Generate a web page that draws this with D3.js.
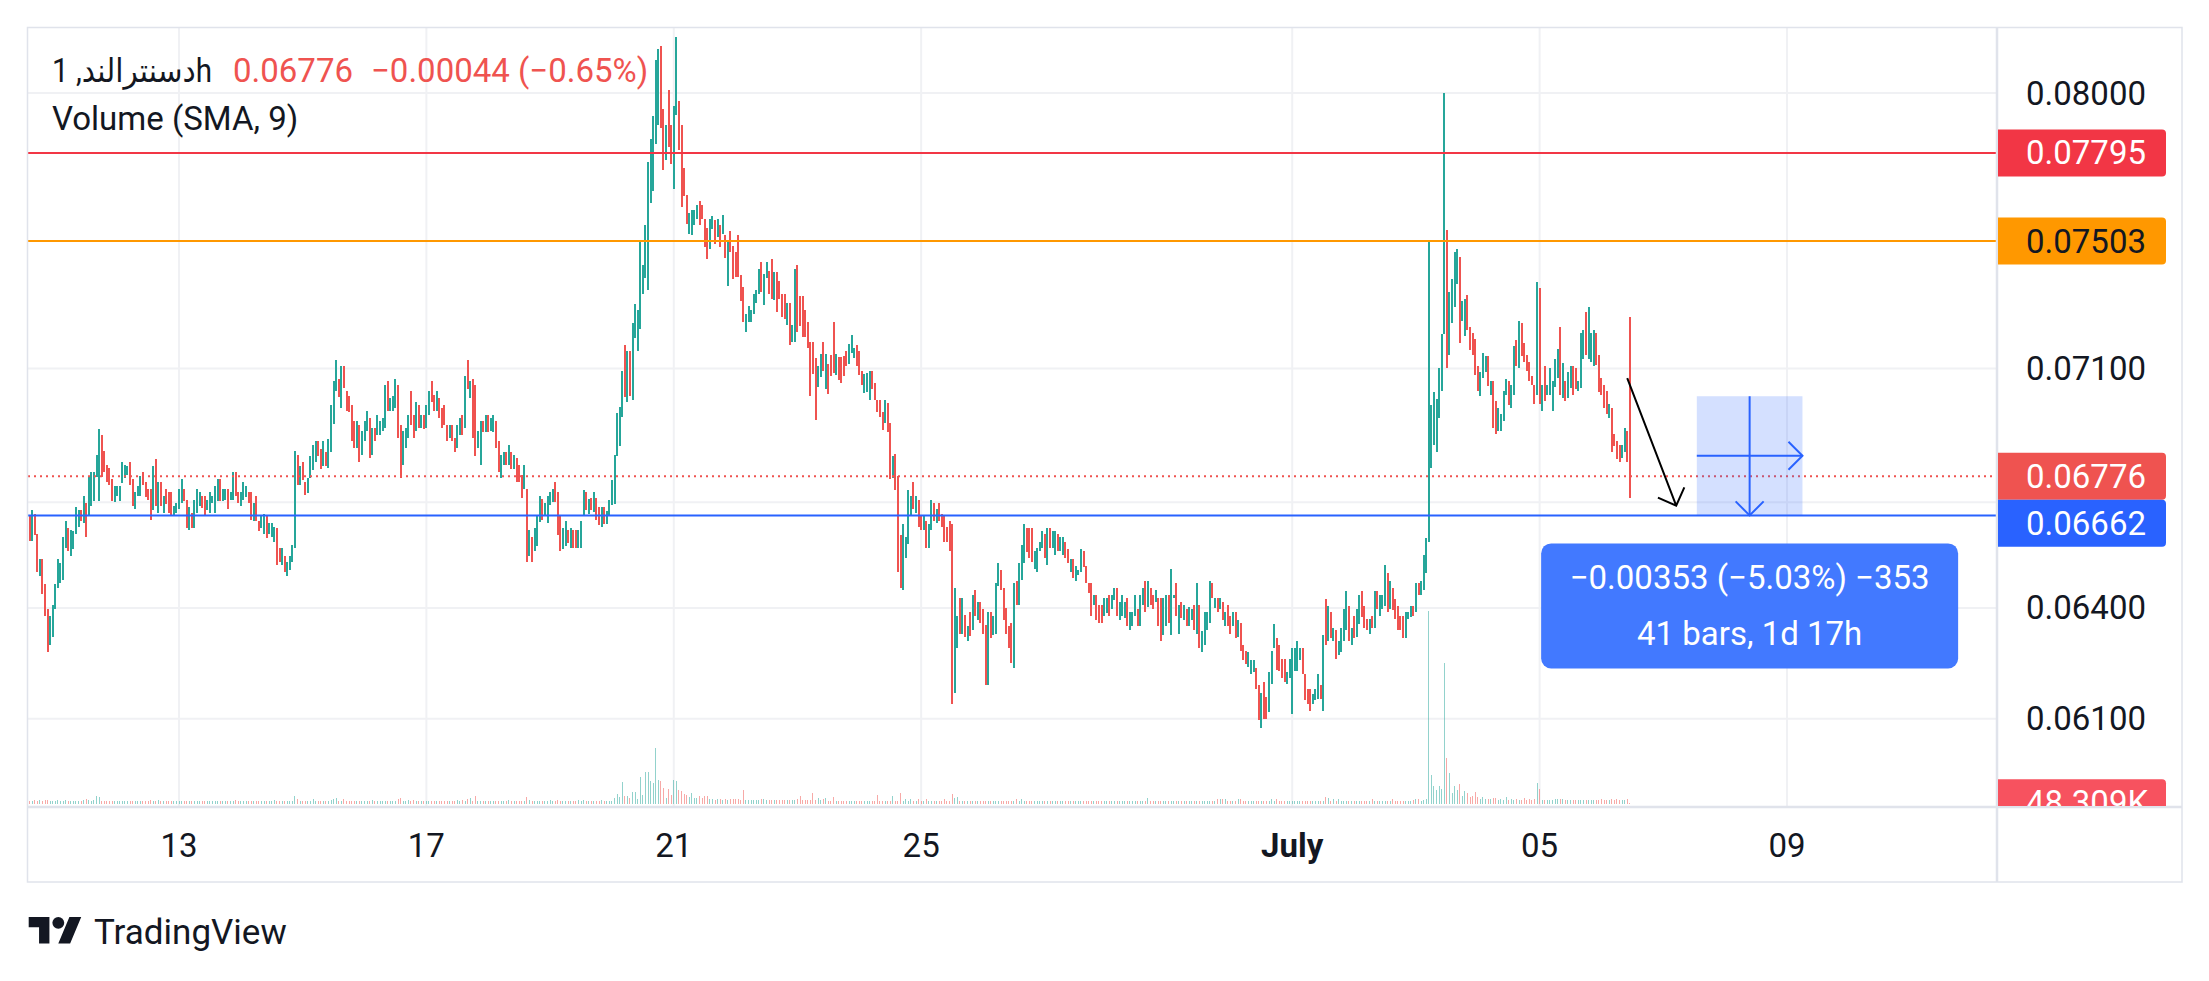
<!DOCTYPE html>
<html>
<head>
<meta charset="utf-8">
<script src="https://cdn.jsdelivr.net/npm/d3@7"></script>
<style>
  html, body { margin: 0; padding: 0; background: #fff; }
  svg { display: block; }
  text { font-family: Roboto, "DejaVu Sans", sans-serif; }
</style>
</head>
<body>
<div id="chart"></div>
<script>
const W = 2209, H = 981;

// hourly bars starting 10 June 14:00 UTC, prices in units of 0.00001
const startTime = Date.UTC(2024, 5, 10, 14);

const highs = [
  6662,6678,6666,6608,6538,6538,6468,6398,6377,6407,
  6468,6538,6527,6599,6646,6625,6620,6616,6687,6679,
  6679,6717,6699,6777,6787,6787,6838,6917,6899,6850,
  6810,6800,6769,6748,6748,6748,6819,6810,6807,6819,
  6769,6730,6748,6777,6787,6758,6740,6740,6807,6828,
  6758,6758,6717,6738,6730,6730,6688,6699,6738,6769,
  6738,6706,6687,6668,6706,6738,6730,6717,6717,6706,
  6730,6717,6748,6769,6769,6738,6738,6738,6730,6787,
  6787,6730,6730,6758,6748,6730,6730,6699,6717,6647,
  6659,6666,6659,6640,6640,6630,6627,6568,6568,6547,
  6530,6547,6578,6850,6838,6807,6819,6758,
  6770,6837,6867,6879,6879,6857,6879,6849,6887,6989,
  7060,7127,7069,7109,7109,7030,7017,6989,6939,6939,
  6929,6909,6939,6969,6949,6919,6919,6959,6939,6949,
  7048,7060,7009,7017,7068,7048,6929,6909,6919,6959,
  7030,6959,6999,6989,6959,6959,6989,7030,7060,7019,
  7030,7009,6979,6989,6929,6929,6929,6889,6929,6949,
  6959,7078,7127,7060,7068,7048,6909,6939,6939,6959,
  6959,6949,6959,6939,6879,6839,6849,6849,6867,6849,
  6839,6829,6808,6780,6808,6739,6619,6599,6627,6664,
  6717,6709,6697,6717,6729,6738,6758,6729,6664,6627,
  6647,6619,6627,6619,6619,6619,6647,6736,6729,6709,
  6712,6729,
  6713,6685,6685,6685,6675,6706,6764,6840,6964,6982,
  7093,7173,7153,7153,7242,7302,7282,7503,7424,7555,
  7765,7843,7922,8115,8155,8165,7944,7890,8012,7890,
  7955,8197,7974,7889,7744,7654,7595,7605,7605,7622,
  7634,7620,7575,7546,7575,7584,7573,7575,7555,7587,
  7523,7503,7536,7487,7467,7523,7392,7356,7270,7296,
  7282,7333,7345,7413,7436,7396,7436,7407,7444,7402,
  7402,7373,7333,7333,7304,7304,7234,7413,7424,7325,
  7325,7282,7245,7183,7181,7131,7109,7146,7181,7146,
  7115,7142,7244,7146,7134,7134,7137,7153,7175,7203,
  7164,7173,7153,7091,7082,7087,7091,7091,7054,7005,
  7003,6968,7005,6995,6935,6835,6843,6778,6605,
  6638,6599,6736,6717,6758,6717,6708,6659,6659,6647,
  6638,6708,6699,6680,6699,6667,6659,6628,6647,6638,
  6457,6377,6427,6427,6381,6349,6388,6437,6449,6418,
  6418,6398,6352,6388,6388,6377,6469,6527,6507,6457,
  6400,6349,6358,6469,6476,6527,6578,6638,6627,6627,
  6627,6559,6568,6587,6618,6608,6627,6627,6618,6618,
  6608,6599,6599,6587,6567,6538,6538,6518,6507,6567,
  6559,6518,6469,6469,6437,6437,6409,6409,6427,6427,
  6437,6437,6457,6457,6418,6437,6418,6427,6388,6388,
  6437,6398,6437,6457,6476,6476,6457,6437,6449,6427,
  6427,6427,6437,6437,6508,6437,6469,6409,6418,6409,
  6398,6404,6398,6407,6469,6407,6337,6388,6388,6476,
  6469,6427,6427,6427,6418,6388,6407,6377,6388,6388,
  6368,6358,6299,6281,6278,6258,6258,6237,6191,6168,
  6198,6157,
  6226,6281,6356,6317,6297,6259,6259,6226,6259,6289,
  6289,6308,6289,6289,6219,6178,6178,6167,6178,6219,
  6189,6326,6426,6406,6388,6346,6338,6308,6346,6397,
  6448,6406,6346,6377,6397,6437,6448,6406,6369,6369,
  6377,6448,6448,6437,6437,6519,6499,6476,6457,6426,
  6406,6377,6377,6388,6388,6406,6406,6469,6469,6476,
  6548,6598,7502,6988,7027,7008,7100,7206,8000,7540,
  7338,7380,
  7469,7478,7450,7309,7317,7328,7230,7209,7191,7109,
  7088,7149,7139,7139,7060,7060,7000,6979,6961,7030,
  7068,7060,7050,7168,7189,7249,7241,7178,7142,7121,
  7078,7050,7370,7352,7048,7109,7048,7101,7060,7129,
  7160,7230,7118,7060,7088,7109,7109,7101,7060,7209,
  7218,7277,7290,7209,7220,7209,7142,7070,7050,7030,
  6991,6979,6901,6879,6869,6867,6919,6909,7261
];

const lows = [
  6589,6589,6606,6500,6490,6439,6377,6279,6299,6320,
  6398,6455,6469,6477,6568,6559,6547,6565,6609,6628,
  6647,6640,6600,6659,6688,6703,6773,6703,6774,6788,
  6758,6751,6703,6701,6717,6703,6756,6770,6779,6751,
  6689,6680,6717,6719,6751,6715,6707,6649,6679,6689,
  6670,6688,6670,6696,6670,6659,6659,6670,6680,6699,
  6703,6627,6619,6627,6627,6670,6688,6683,6659,6678,
  6670,6699,6670,6703,6703,6703,6706,6680,6706,6707,
  6717,6699,6688,6706,6715,6699,6649,6647,6647,6618,
  6625,6608,6597,6608,6599,6587,6521,6530,6521,6500,
  6490,6505,6528,6568,6751,6751,6764,6722,
  6726,6770,6795,6819,6837,6798,6805,6805,6800,6849,
  6931,7030,7014,6979,7040,6969,6966,6879,6859,6859,
  6819,6839,6879,6909,6829,6839,6879,6899,6899,6909,
  6919,6969,6969,6969,6979,6889,6770,6808,6859,6889,
  6929,6889,6909,6919,6919,6917,6919,6959,6999,6969,
  6969,6949,6919,6929,6879,6889,6879,6849,6859,6899,
  6899,6919,7038,7009,6889,6837,6859,6808,6907,6907,
  6907,6909,6907,6859,6788,6770,6810,6808,6808,6798,
  6798,6759,6759,6712,6739,6528,6547,6528,6559,6573,
  6642,6649,6664,6640,6693,6700,6700,6606,6561,6566,
  6573,6582,6568,6568,6568,6568,6568,6659,6678,6665,
  6678,6671,
  6648,6635,6628,6637,6637,6660,6693,6695,6835,6864,
  6953,7014,6997,7016,7003,7194,7155,7223,7333,7384,
  7345,7626,7666,7824,7890,7880,7737,7771,7816,7756,
  7675,7925,7806,7614,7652,7557,7525,7523,7555,7575,
  7555,7575,7485,7445,7476,7543,7493,7517,7485,7525,
  7447,7359,7468,7379,7387,7387,7310,7245,7214,7245,
  7245,7270,7304,7333,7339,7299,7384,7333,7316,7314,
  7276,7316,7259,7255,7234,7173,7181,7183,7214,7231,
  7198,7198,7164,7016,7082,6944,7044,7073,7093,7036,
  7021,7076,7087,7080,7065,7054,7076,7109,7115,7148,
  7131,7109,7080,7049,7025,7027,7005,7038,7005,6968,
  6951,6914,6935,6906,6767,6772,6736,6502,6455,
  6451,6540,6579,6659,6680,6668,6628,6619,6619,6568,
  6568,6619,6647,6640,6647,6628,6587,6587,6559,6139,
  6168,6290,6328,6328,6319,6308,6324,6338,6377,6368,
  6358,6328,6191,6191,6317,6326,6328,6460,6449,6368,
  6328,6290,6249,6237,6409,6409,6479,6525,6557,6540,
  6530,6509,6500,6559,6568,6540,6521,6568,6568,6549,
  6559,6559,6549,6540,6525,6502,6485,6474,6491,6502,
  6516,6469,6441,6377,6409,6368,6358,6358,6377,6386,
  6377,6398,6423,6377,6368,6377,6372,6349,6340,6349,
  6377,6349,6349,6409,6390,6404,6409,6398,6418,6349,
  6308,6326,6349,6358,6326,6427,6377,6328,6372,6368,
  6349,6349,6368,6340,6328,6290,6279,6299,6340,6358,
  6427,6400,6390,6398,6368,6349,6349,6328,6349,6317,
  6319,6281,6258,6247,6238,6220,6226,6179,6096,6077,
  6099,6099,
  6118,6192,6289,6230,6228,6208,6197,6192,6208,6112,
  6228,6228,6258,6219,6150,6139,6120,6139,6150,6153,
  6153,6120,6297,6308,6317,6308,6261,6270,6278,6308,
  6340,6308,6299,6317,6320,6356,6374,6346,6340,6329,
  6346,6346,6397,6377,6397,6406,6388,6397,6395,6369,
  6338,6338,6317,6317,6369,6374,6377,6388,6437,6437,
  6449,6499,6586,6800,6868,6849,6948,7030,7206,7100,
  7140,7241,
  7290,7363,7178,7249,7202,7220,7158,7142,7080,7030,
  7017,7070,7088,7047,7020,6919,6902,6911,6911,6939,
  7020,6989,6979,7020,7109,7101,7137,7119,7091,7062,
  7050,6991,7020,6991,6971,7000,7018,7020,6971,7043,
  7070,7020,7010,7000,7010,7040,7020,7037,7030,7040,
  7129,7140,7130,7121,7109,7111,7027,7020,6979,6961,
  6949,6849,6864,6827,6819,6829,6849,6817,6711
];

// u = closed up, d = closed down
const dirs =
  "dudduddduu" + "uuuuuduuuu" + "duduuuuudd" + "ddduuuuuud" + "duuuddddud" +
  "ududdduuuu" + "dduduuuddu" + "uuuuduuduu" + "dduuuddudd" + "uuduuuddud" + "uuuududd" +
  "uuuudduduu" + "uududddddu" + "duuududuuu" + "uduuudduuu" + "ddududuudd" +
  "uddddudduu" + "dududduudu" + "duudduudud" + "udddududuu" + "uduuuudddu" + "ududduuudu" + "du" +
  "dduduuuuuu" + "ududuuuuuu" + "uuuuuddudd" + "uudddduuuu" + "dddduududu" +
  "dudddddduu" + "uuuuduuddu" + "dddduduudd" + "dddddduudu" + "dddudddduu" + "uddduuuddd" + "ddudduddd" +
  "uuuududdud" + "uududddddd" + "uududududu" + "ddduduuudd" + "ddduduuudd" + "duuuududuu" +
  "duudduduuu" + "dddduddduu" + "duuduuuduu" + "uduududdud" + "duuduududu" + "duududuuuu" +
  "dudududdud" + "uddduuuddu" + "dd" +
  "uuudddduuu" + "uuudddduuu" + "dudududuuu" + "ududuudddu" + "duduuududd" + "ddduuududu" + "uuuuuuuuud" + "uu" +
  "uuduuddddd" + "uuududduuu" + "uduududddd" + "ddududuuuu" + "ududuudduu" + "uduuuddddd" + "udddduudd";

// volume per bar, thousands
const volumes = [
  130,140,150,130,160,120,150,160,130,140, 120,150,130,140,150,120,130,140,130,120,
  140,150,202,150,140,150,323,283,140,130, 120,130,140,130,120,130,140,120,130,140,
  120,130,140,130,120,130,140,160,130,120, 160,130,120,130,140,120,130,120,130,140,
  120,130,140,130,120,130,140,130,120,130, 130,140,120,130,140,130,120,130,140,130,
  160,130,120,130,140,120,130,140,120,130, 120,130,140,130,120,160,130,140,120,130,
  130,120,140,323,202,140,130,120,140,130, 202,130,140,130,120,130,140,162,202,242,
  140,130,202,130,120,130,140,130,120,130, 130,140,130,160,130,120,140,130,120,130,
  130,140,130,202,242,140,130,175,130,160, 130,140,120,130,140,130,120,130,140,130,
  120,130,140,130,120,130,150,140,150,140, 202,242,140,323,140,130,120,130,140,130,
  120,130,140,130,120,130,160,130,140,130, 120,130,140,283,175,130,140,120,130,140,
  130,120,150,130,140,175,130,120,130,140, 130,140,130,160,120,160,130,140,120,130,
  140,130,150,140,130,120,140,242,404,300, 889,323,336,242,485,485,215,1091,377,1293,
  1293,929,862,2262,970,929,646,242,606,364, 970,929,566,525,404,364,283,444,242,242,
  323,242,323,323,202,202,175,202,202,175, 202,175,202,202,202,202,175,566,160,160,
  150,160,150,160,202,202,150,160,150,160, 150,160,150,160,150,160,150,160,202,323,
  160,150,160,150,444,160,242,150,202,242, 130,120,269,130,120,110,130,120,110,130,
  120,110,130,120,110,130,120,110,130,363, 120,110,130,120,110,323,120,130,457,130,
  187,130,215,130,120,215,130,120,187,130, 120,130,110,120,130,215,120,130,404,242,
  269,130,120,110,130,120,110,130,120,110, 130,120,110,130,120,110,130,120,110,130,
  120,110,130,187,120,215,130,120,110,130, 120,110,130,120,110,130,120,110,130,120,
  110,130,120,110,130,120,110,130,120,110, 130,120,110,130,120,110,130,120,110,130,
  120,110,130,120,110,130,120,110,130,120, 110,130,120,110,242,130,120,110,130,120,
  110,130,120,110,130,120,110,130,120,110, 130,120,110,130,120,110,130,120,110,130,
  120,187,187,187,187,130,120,110,130,215, 215,120,110,130,120,110,130,120,110,130,
  120,110,215,130,187,110,130,120,110,130, 120,110,130,120,110,130,120,110,130,120,
  110,130,120,269,242,130,215,120,200,130, 120,110,130,120,110,130,120,110,130,120,
  110,187,120,110,130,120,110,130,120,187, 130,120,110,130,120,110,130,161,187,215,
  130,161,200,7800,1171,727,565,727,619,5700, 1858,1252,457,727,565,808,323,510,457,296,
  323,484,296,187,296,215,215,215,242,242, 170,215,170,296,170,187,170,215,170,170,
  242,170,187,170,187,861,619,170,161,161, 161,170,187,187,187,215,170,170,170,180,
  170,170,180,170,170,180,170,170,180,170, 215,170,170,170,187,170,215,170,170,170,
  187,48.309
];

const lastClose = 0.06776;
const lastChange = -0.00044;
const lastChangePct = -0.65;

const priceTicks = [0.061, 0.064, 0.067, 0.071, 0.080];
const timeTicks = [
  Date.UTC(2024, 5, 13), Date.UTC(2024, 5, 17), Date.UTC(2024, 5, 21), Date.UTC(2024, 5, 25),
  Date.UTC(2024, 6, 1), Date.UTC(2024, 6, 5), Date.UTC(2024, 6, 9)
].map(d => new Date(d));

const lineLevels = [0.07795, 0.07503, 0.06662];
const lineColors = ['#f23645', '#ff9800', '#2962ff'];
const lineText = ['#ffffff', '#131722', '#ffffff'];

// price range tool (bar index, price) and the hand-drawn arrow
const rangeBars = [647, 688];
const rangePrices = [0.07015, 0.06662];
const arrowBars = [620, 639];
const arrowPrices = [0.0707, 0.0669];

// layout
const plot = { left: 28, top: 28, right: 1997, bottom: 806 };
const axisRight = 2182, axisBottom = 882;
const UP = '#26a69a', DOWN = '#ef5350';
const FS = 33;

const barTime = i => new Date(startTime + i * 3600e3);
const bars = highs.map((h, i) => ({
  t: barTime(i), h: h / 1e5, l: lows[i] / 1e5, up: dirs[i] === 'u', v: volumes[i]
}));

const x = d3.scaleUtc()
  .domain([Date.UTC(2024, 5, 13), Date.UTC(2024, 6, 9)])
  .range([179, 1787]);
const y = d3.scaleLog()
  .domain([0.061, 0.08])
  .range([718.8, 93]);
const yv = d3.scaleLinear()
  .domain([0, d3.max(volumes)])
  .range([804, 611]);

const fmtPrice = d3.format('.5f');

const svg = d3.select('#chart').append('svg')
  .attr('width', W).attr('height', H);

svg.append('rect').attr('width', W).attr('height', H).attr('fill', '#fff');

svg.append('clipPath').attr('id', 'plotClip')
  .append('rect')
  .attr('x', plot.left).attr('y', plot.top)
  .attr('width', plot.right - plot.left).attr('height', plot.bottom - plot.top);

svg.append('clipPath').attr('id', 'axisClip')
  .append('rect')
  .attr('x', plot.right).attr('y', plot.top)
  .attr('width', axisRight - plot.right).attr('height', plot.bottom - plot.top);

const g = svg.append('g').attr('clip-path', 'url(#plotClip)');

// grid
g.selectAll('.hgrid').data(priceTicks).join('line')
  .attr('x1', plot.left).attr('x2', plot.right)
  .attr('y1', d => y(d)).attr('y2', d => y(d))
  .attr('stroke', '#f0f1f4').attr('stroke-width', 2);

g.selectAll('.vgrid').data(timeTicks).join('line')
  .attr('x1', d => x(d)).attr('x2', d => x(d))
  .attr('y1', plot.top).attr('y2', plot.bottom)
  .attr('stroke', '#f0f1f4').attr('stroke-width', 2);

// volume
g.append('g').selectAll('rect').data(bars).join('rect')
  .attr('x', d => Math.floor(x(d.t)))
  .attr('width', 1)
  .attr('y', d => yv(d.v))
  .attr('height', d => Math.max(0.5, yv(0) - yv(d.v)))
  .attr('fill', d => d.up ? 'rgba(38,166,154,0.5)' : 'rgba(239,83,80,0.5)')
  .attr('shape-rendering', 'crispEdges');

// candles
g.append('g').selectAll('rect').data(bars).join('rect')
  .attr('x', d => Math.round(x(d.t) - 1))
  .attr('width', 2)
  .attr('y', d => y(d.h))
  .attr('height', d => Math.max(1, y(d.l) - y(d.h)))
  .attr('fill', d => d.up ? UP : DOWN)
  .attr('shape-rendering', 'crispEdges');

// horizontal lines
g.append('line')
  .attr('x1', plot.left).attr('x2', plot.right)
  .attr('y1', y(lastClose)).attr('y2', y(lastClose))
  .attr('stroke', DOWN).attr('stroke-width', 2)
  .attr('stroke-dasharray', '2,4');

g.selectAll('.level').data(lineLevels).join('line')
  .attr('x1', plot.left).attr('x2', plot.right)
  .attr('y1', d => y(d)).attr('y2', d => y(d))
  .attr('stroke', (d, i) => lineColors[i]).attr('stroke-width', 2);

// price range tool
const rx0 = x(barTime(rangeBars[0])), rx1 = x(barTime(rangeBars[1]));
const ry0 = y(rangePrices[0]), ry1 = y(rangePrices[1]);
const rcx = (rx0 + rx1) / 2, rcy = (ry0 + ry1) / 2;
const tool = svg.append('g');
tool.append('rect')
  .attr('x', rx0).attr('y', ry0).attr('width', rx1 - rx0).attr('height', ry1 - ry0)
  .attr('fill', 'rgba(41,98,255,0.2)');
const blueStroke = sel => sel.attr('stroke', '#2962ff').attr('stroke-width', 2).attr('fill', 'none');
tool.append('line').attr('x1', rcx).attr('x2', rcx).attr('y1', ry0).attr('y2', ry1).call(blueStroke);
tool.append('line').attr('x1', rx0).attr('x2', rx1).attr('y1', rcy).attr('y2', rcy).call(blueStroke);
tool.append('path').attr('d', `M${rcx - 14},${ry1 - 14}L${rcx},${ry1}L${rcx + 14},${ry1 - 14}`).call(blueStroke);
tool.append('path').attr('d', `M${rx1 - 14},${rcy - 14}L${rx1},${rcy}L${rx1 - 14},${rcy + 14}`).call(blueStroke);

const diff = rangePrices[1] - rangePrices[0];
const nBars = rangeBars[1] - rangeBars[0];
const line1 = `${fmtPrice(diff)} (${d3.format('.2f')(diff / rangePrices[0] * 100)}%) ${d3.format('d')(Math.round(diff * 1e5))}`;
const line2 = `${nBars} bars, ${Math.floor(nBars / 24)}d ${nBars % 24}h`;
const boxW = 417, boxH = 125, boxTop = ry1 + 28;
tool.append('rect')
  .attr('x', rcx - boxW / 2).attr('y', boxTop).attr('width', boxW).attr('height', boxH)
  .attr('rx', 10).attr('fill', '#4279ff');
tool.append('text').attr('x', rcx).attr('y', boxTop + 46)
  .attr('text-anchor', 'middle').attr('fill', '#fff').attr('font-size', FS).text(line1);
tool.append('text').attr('x', rcx).attr('y', boxTop + 102)
  .attr('text-anchor', 'middle').attr('fill', '#fff').attr('font-size', FS).text(line2);

// arrow
const ax0 = x(barTime(arrowBars[0])), ay0 = y(arrowPrices[0]);
const ax1 = x(barTime(arrowBars[1])), ay1 = y(arrowPrices[1]);
const ang = Math.atan2(ay1 - ay0, ax1 - ax0) + Math.PI;
const wing = a => [ax1 + 20 * Math.cos(ang + a), ay1 + 20 * Math.sin(ang + a)];
const w1 = wing(Math.PI / 4), w2 = wing(-Math.PI / 4);
svg.append('path')
  .attr('d', `M${ax0},${ay0}L${ax1},${ay1}M${w1[0]},${w1[1]}L${ax1},${ay1}L${w2[0]},${w2[1]}`)
  .attr('stroke', '#000').attr('stroke-width', 2).attr('fill', 'none');

// legend
svg.append('text').attr('x', 52).attr('y', 82)
  .attr('font-size', FS).attr('fill', '#131722')
  .attr('textLength', 160).attr('lengthAdjust', 'spacingAndGlyphs')
  .text('دسنترالند, 1h');
const leg = svg.append('text').attr('x', 233).attr('y', 82)
  .attr('font-size', FS).attr('fill', DOWN);
leg.append('tspan').text(fmtPrice(lastClose));
leg.append('tspan').attr('dx', 18)
  .text(`${fmtPrice(lastChange)} (${d3.format('.2f')(lastChangePct)}%)`);
svg.append('text').attr('x', 52).attr('y', 130)
  .attr('font-size', FS).attr('fill', '#131722')
  .text('Volume (SMA, 9)');

// frame and separators
svg.append('rect')
  .attr('x', 27.5).attr('y', 27.5)
  .attr('width', axisRight - 27.5).attr('height', axisBottom - 27.5)
  .attr('fill', 'none').attr('stroke', '#e0e3eb').attr('stroke-width', 1.5);
svg.append('line').attr('x1', plot.right).attr('x2', plot.right)
  .attr('y1', 27.5).attr('y2', axisBottom)
  .attr('stroke', '#e0e3eb').attr('stroke-width', 2.5);
svg.append('line').attr('x1', 27.5).attr('x2', axisRight)
  .attr('y1', plot.bottom + 1).attr('y2', plot.bottom + 1)
  .attr('stroke', '#e0e3eb').attr('stroke-width', 2.5);

// price axis labels
const LBL_H = 47, LBL_X = plot.right + 1, LBL_W = 168;
const labels = lineLevels.map((p, i) => ({ p, fill: lineColors[i], text: lineText[i] }))
  .concat([{ p: lastClose, fill: DOWN, text: '#ffffff' }])
  .map(d => Object.assign(d, { cy: y(d.p) }))
  .sort((a, b) => a.cy - b.cy);
for (let i = 1; i < labels.length; i++) {
  const minY = labels[i - 1].cy + LBL_H;
  if (labels[i].cy < minY) labels[i].cy = minY;
}

const axisG = svg.append('g').attr('clip-path', 'url(#axisClip)');
axisG.selectAll('.tick').data(priceTicks.filter(t => labels.every(l => Math.abs(l.cy - y(t)) > 40)))
  .join('text')
  .attr('x', 2026).attr('y', d => y(d) + 11.5)
  .attr('font-size', FS).attr('fill', '#131722')
  .text(d => fmtPrice(d));

const labelPath = cy => {
  const t = cy - LBL_H / 2, r = 4;
  return `M${LBL_X},${t}H${LBL_X + LBL_W - r}Q${LBL_X + LBL_W},${t} ${LBL_X + LBL_W},${t + r}` +
    `V${t + LBL_H - r}Q${LBL_X + LBL_W},${t + LBL_H} ${LBL_X + LBL_W - r},${t + LBL_H}H${LBL_X}Z`;
};
const lab = axisG.selectAll('.plabel').data(labels).join('g');
lab.append('path').attr('d', d => labelPath(d.cy)).attr('fill', d => d.fill);
lab.append('text').attr('x', 2026).attr('y', d => d.cy + 11.5)
  .attr('font-size', FS).attr('fill', d => d.text)
  .text(d => fmtPrice(d.p));

const lastVol = volumes[volumes.length - 1];
const vy = yv(lastVol);
axisG.append('path').attr('d', labelPath(vy)).attr('fill', '#f7525f');
axisG.append('text').attr('x', 2026).attr('y', vy + 11.5)
  .attr('font-size', FS).attr('fill', '#fff')
  .text(d3.format('.3f')(lastVol) + 'K');

// time axis
svg.selectAll('.tlabel').data(timeTicks).join('text')
  .attr('x', d => x(d)).attr('y', 857)
  .attr('text-anchor', 'middle')
  .attr('font-size', FS).attr('fill', '#131722')
  .attr('font-weight', d => d.getUTCDate() === 1 ? 700 : 400)
  .text(d => d.getUTCDate() === 1 ? d3.utcFormat('%B')(d) : d3.utcFormat('%d')(d));

// logo
svg.append('g')
  .attr('transform', 'translate(28.7,911) scale(1.48)')
  .attr('fill', '#131722')
  .call(s => {
    s.append('path').attr('d', 'M14 22H7V11H0V4h14v18zM28 22h-8l7.5-18h8L28 22z');
    s.append('circle').attr('cx', 20).attr('cy', 8).attr('r', 4);
  });
svg.append('text').attr('x', 94).attr('y', 944)
  .attr('font-size', 35).attr('font-weight', 400).attr('fill', '#131722')
  .text('TradingView');
</script>
</body>
</html>
